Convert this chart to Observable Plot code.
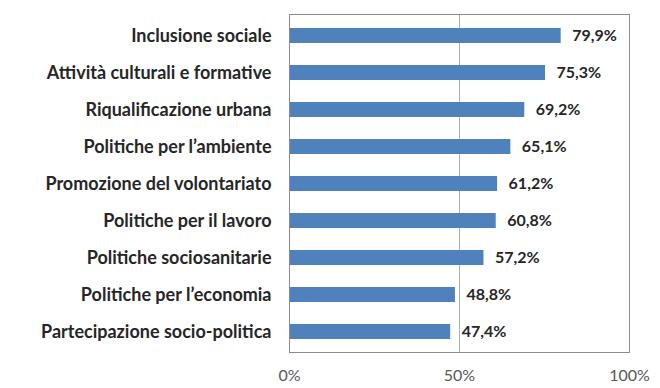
<!DOCTYPE html>
<html>
<head>
<meta charset="utf-8">
<script src="https://cdn.jsdelivr.net/npm/d3@7"></script>
<script src="https://cdn.jsdelivr.net/npm/@observablehq/plot@0.6"></script>
<style>
  html, body { margin: 0; padding: 0; background: #fff; }
  #chart { width: 660px; height: 388px; }
  svg { font-family: Lato, "Open Sans", sans-serif; }
</style>
</head>
<body>
<div id="chart"></div>
<script>
const categories = [
  "Inclusione sociale",
  "Attività culturali e formative",
  "Riqualificazione urbana",
  "Politiche per l’ambiente",
  "Promozione del volontariato",
  "Politiche per il lavoro",
  "Politiche sociosanitarie",
  "Politiche per l’economia",
  "Partecipazione socio-politica"
];
const values = [79.9, 75.3, 69.2, 65.1, 61.2, 60.8, 57.2, 48.8, 47.4];
const xTicks = [0, 50, 100];

const data = categories.map((c, i) => ({category: c, value: values[i]}));
const fmt = v => v.toFixed(1).replace(".", ",") + "%";

const chart = Plot.plot({
  width: 660,
  height: 388,
  marginLeft: 289,
  marginRight: 31,
  marginTop: 14,
  marginBottom: 36,
  style: {fontFamily: "Lato, 'Open Sans', sans-serif", background: "#fff"},
  x: {domain: [0, 100], ticks: xTicks, tickFormat: d => d + "%", tickSize: 0, tickPadding: 18, label: null},
  y: {domain: categories, paddingInner: 0.6, paddingOuter: 0.3, label: null, tickSize: 0, tickPadding: 18},
  marks: [
    Plot.ruleX([50], {stroke: "#b0b0b0", strokeWidth: 1}),
    Plot.barX(data, {x: "value", y: "category", fill: "#4F81BD"}),
    Plot.text(data, {x: "value", y: "category", text: d => fmt(d.value), textAnchor: "start", dx: 11, fontWeight: "bold", fontSize: 16, fill: "#262626"}),
    Plot.frame({stroke: "#8c8c8c", strokeWidth: 1}),
    Plot.axisX({ticks: xTicks, tickFormat: d => d + "%", tickSize: 0, tickPadding: 17, fontSize: 16, color: "#595959", label: null}),
    Plot.axisY({tickSize: 0, tickPadding: 18, fontSize: 18, fontWeight: "bold", color: "#262626", label: null})
  ]
});
document.getElementById("chart").appendChild(chart);
</script>
</body>
</html>
